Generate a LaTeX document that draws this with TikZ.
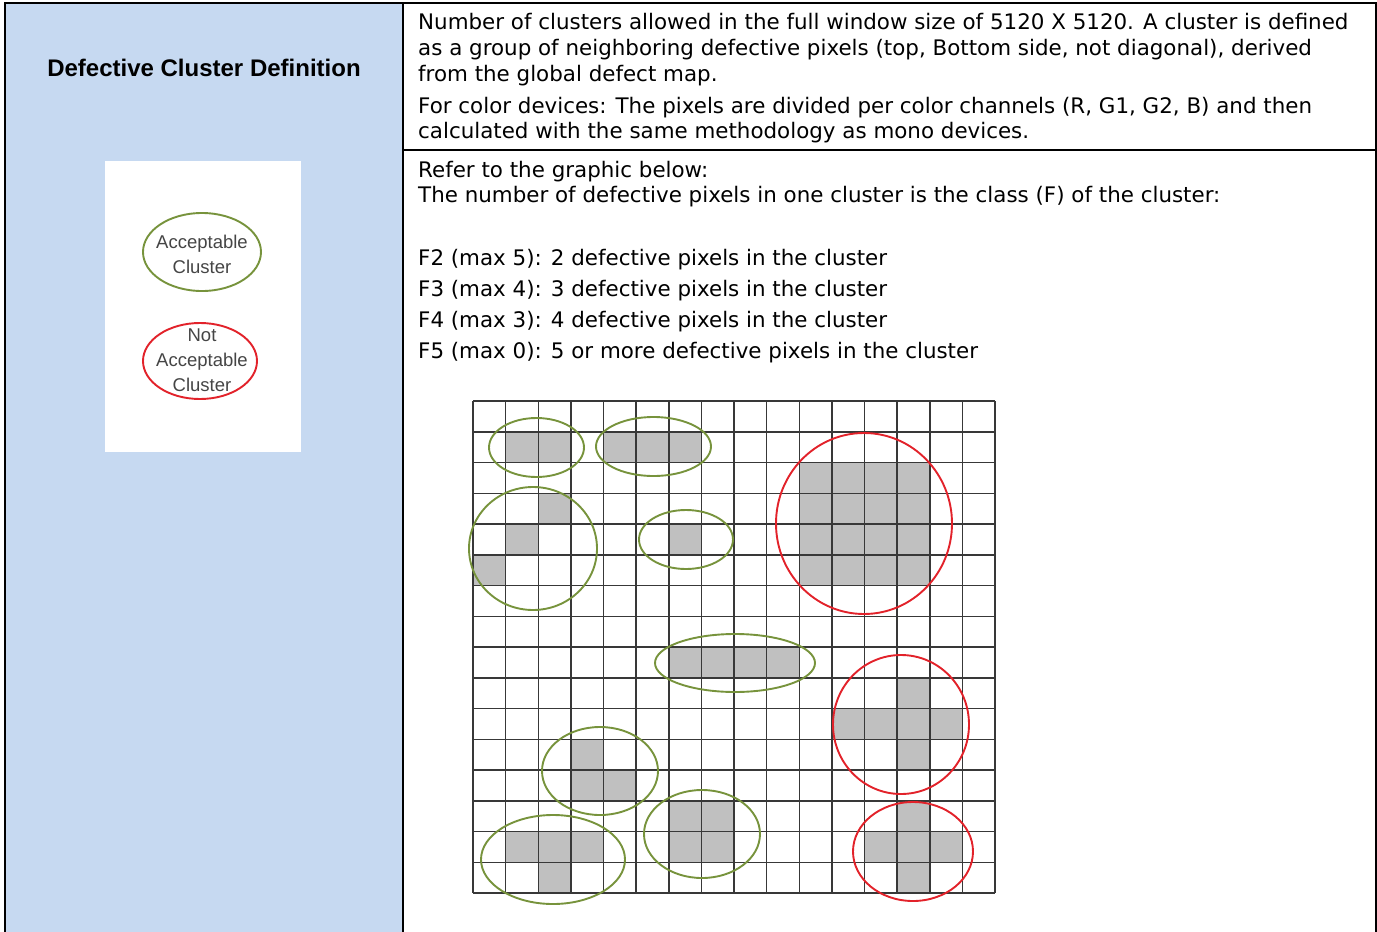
\documentclass[tikz,border=0pt]{standalone}
\usepackage{fontspec}
\setmainfont{DejaVu Sans}
\newfontfamily\arialfont{Liberation Sans}
\usetikzlibrary{shapes.geometric}
\definecolor{cellblue}{HTML}{C6D9F1}
\definecolor{okgreen}{HTML}{77933C}
\definecolor{badred}{HTML}{E2222A}
\definecolor{pixgray}{HTML}{C0C0C0}
\definecolor{gridgray}{HTML}{383838}
\definecolor{legendtext}{HTML}{454545}
\begin{document}
\begin{tikzpicture}[x=1pt,y=-1pt,
  bodytext/.style={anchor=base west,inner sep=0pt,font=\fontsize{21.4}{26}\selectfont},
  titletext/.style={anchor=base,inner sep=0pt,font=\arialfont\bfseries\fontsize{24}{28}\selectfont},
  legtext/.style={anchor=base,inner sep=0pt,text=legendtext,font=\arialfont\fontsize{18.5}{20}\selectfont},
  rule/.style={line width=2pt,black},
  gridline/.style={line width=1.5pt,gridgray},
  okring/.style={draw=okgreen,line width=1.9pt,ellipse,inner sep=0pt},
  badring/.style={draw=badred,line width=1.9pt,ellipse,inner sep=0pt}]
\useasboundingbox (0,0) rectangle (1377,932);
% table
\fill[cellblue] (5,3) rectangle (403,932);
\draw[rule] (4,3) -- (1377,3);
\draw[rule] (5,2) -- (5,932);
\draw[rule] (403,3) -- (403,932);
\draw[rule] (1376,2) -- (1376,932);
\draw[rule] (403,149.5) -- (1376,149.5);
% title
\node[titletext] (title) at (204,76.6) {Defective Cluster Definition};
% legend
\fill[white] (105,161) rectangle (301,452);
\node[okring,minimum width=118pt,minimum height=78pt] (legok) at (202,252) {};
\node[badring,minimum width=114pt,minimum height=76pt] (legbad) at (200,361) {};
\node[legtext] (legok1) at (202,248.5) {Acceptable};
\node[legtext] (legok2) at (202,273.5) {Cluster};
\node[legtext] (legbad1) at (202,341.5) {Not};
\node[legtext] (legbad2) at (202,366.5) {Acceptable};
\node[legtext] (legbad3) at (202,391.5) {Cluster};
% right text
\node[bodytext] (t1) at (418,29.8) {Number of clusters allowed in the full window size of 5120 X 5120. A cluster is defined};
\node[bodytext] (t2) at (418,55.8) {as a group of neighboring defective pixels (top, Bottom side, not diagonal), derived};
\node[bodytext] (t3) at (418,81.8) {from the global defect map.};
\node[bodytext] (t4) at (418,113.8) {For color devices: The pixels are divided per color channels (R, G1, G2, B) and then};
\node[bodytext] (t5) at (418,138.8) {calculated with the same methodology as mono devices.};
\node[bodytext] (r1) at (418,177.8) {Refer to the graphic below:};
\node[bodytext] (r2) at (418,202.8) {The number of defective pixels in one cluster is the class (F) of the cluster:};
\node[bodytext] (f2) at (418,265.8) {F2 (max 5): 2 defective pixels in the cluster};
\node[bodytext] (f3) at (418,296.8) {F3 (max 4): 3 defective pixels in the cluster};
\node[bodytext] (f4) at (418,327.8) {F4 (max 3): 4 defective pixels in the cluster};
\node[bodytext] (f5) at (418,358.8) {F5 (max 0): 5 or more defective pixels in the cluster};
% pixel grid
\begin{scope}[shift={(473,401)},x=32.625pt,y=-30.75pt]
  \foreach \c/\r in {1/1,2/1, 4/1,5/1,6/1, 2/3,1/4,0/5, 6/4,
    10/2,11/2,12/2,13/2,10/3,11/3,12/3,13/3,10/4,11/4,12/4,13/4,10/5,11/5,12/5,13/5,
    6/8,7/8,8/8,9/8,
    13/9,11/10,12/10,13/10,14/10,13/11,
    3/11,3/12,4/12,
    6/13,7/13,6/14,7/14,
    1/14,2/14,3/14,2/15,
    13/13,12/14,13/14,14/14,13/15}
    \fill[pixgray] (\c,\r) rectangle ++(1,1);
  \foreach \i in {0,...,16} {
    \draw[gridline] (\i,0) -- (\i,16);
    \draw[gridline] (0,\i) -- (16,\i);
  }
\end{scope}
% cluster rings
\node[okring,minimum width=95pt,minimum height=59pt] (c1) at (536.5,447.5) {};
\node[okring,minimum width=115pt,minimum height=59pt] (c2) at (653.5,446.5) {};
\node[okring,minimum width=128pt,minimum height=123pt] (c3) at (533,548.5) {};
\node[okring,minimum width=94pt,minimum height=59pt] (c4) at (686,539.5) {};
\node[badring,minimum width=176pt,minimum height=181pt] (c5) at (864,523.5) {};
\node[okring,minimum width=160pt,minimum height=58pt] (c6) at (735,663) {};
\node[badring,minimum width=136pt,minimum height=139pt] (c7) at (901,724.5) {};
\node[badring,minimum width=120pt,minimum height=99pt] (c8) at (913,851.5) {};
\node[okring,minimum width=116pt,minimum height=88pt] (c9) at (600,771) {};
\node[okring,minimum width=116pt,minimum height=88pt] (c10) at (702,834) {};
\node[okring,minimum width=144pt,minimum height=89pt] (c11) at (553,859.5) {};
\end{tikzpicture}
\end{document}
